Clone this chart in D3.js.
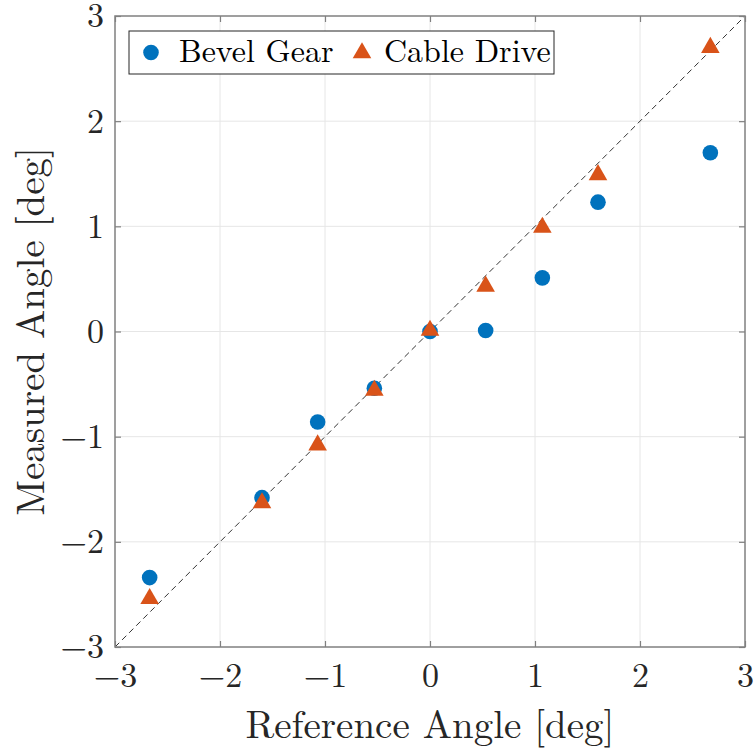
<!DOCTYPE html>
<html>
<head>
<meta charset="utf-8">
<script src="https://cdn.jsdelivr.net/npm/d3@7"></script>
<style>
  body { margin: 0; background: #fff; }
  text { font-family: "Latin Modern Roman", "CMU Serif", "Liberation Serif", "DejaVu Serif", serif; }
</style>
</head>
<body>
<script>
// reference angle (x) and measured angles for each drive
var refAngle = [-2.67, -1.6, -1.07, -0.53, 0, 0.53, 1.07, 1.6, 2.67];
var bevelGear = [-2.34, -1.58, -0.86, -0.54, 0, 0.01, 0.51, 1.23, 1.70];
var cableDrive = [-2.54, -1.63, -1.08, -0.56, 0.01, 0.43, 0.99, 1.49, 2.7];
var tickVals = [-3, -2, -1, 0, 1, 2, 3];

var w = 756, h = 749;
var margin = { left: 115, top: 16, right: 11, bottom: 102 };
var pw = w - margin.left - margin.right;
var ph = h - margin.top - margin.bottom;

var blue = "#0072BD", orange = "#D95319";

var svg = d3.select("body").append("svg")
  .attr("width", w)
  .attr("height", h);

var g = svg.append("g")
  .attr("transform", "translate(" + margin.left + "," + margin.top + ")");

var x = d3.scaleLinear().domain([-3, 3]).range([0, pw]);
var y = d3.scaleLinear().domain([-3, 3]).range([ph, 0]);

// grid
g.append("g").selectAll("line.gx")
  .data(tickVals.slice(1, -1)).enter().append("line")
  .attr("x1", d => x(d)).attr("x2", d => x(d))
  .attr("y1", 0).attr("y2", ph)
  .attr("stroke", "#e6e6e6").attr("stroke-width", 1);
g.append("g").selectAll("line.gy")
  .data(tickVals.slice(1, -1)).enter().append("line")
  .attr("y1", d => y(d)).attr("y2", d => y(d))
  .attr("x1", 0).attr("x2", pw)
  .attr("stroke", "#e6e6e6").attr("stroke-width", 1);

// identity line
g.append("line")
  .attr("x1", x(-3)).attr("y1", y(-3))
  .attr("x2", x(3)).attr("y2", y(3))
  .attr("stroke", "#333").attr("stroke-width", 1)
  .attr("stroke-dasharray", "6,4");

// axes
function styleAxis(sel) {
  sel.select(".domain").remove();
  sel.selectAll(".tick line").attr("stroke", "#808080").attr("stroke-width", 1.2);
  sel.selectAll(".tick text")
    .attr("fill", "#262626")
    .style("font-size", "34px");
}
var fmt = d => (d < 0 ? "\u2212" + Math.abs(d) : "" + d);

g.append("g").attr("transform", "translate(0," + ph + ")")
  .call(d3.axisBottom(x).tickValues(tickVals).tickFormat(fmt).tickSizeInner(-6).tickPadding(16))
  .call(styleAxis);
g.append("g")
  .call(d3.axisLeft(y).tickValues(tickVals).tickFormat(fmt).tickSizeInner(-6).tickPadding(11))
  .call(styleAxis);
g.append("g")
  .call(d3.axisTop(x).tickValues(tickVals).tickFormat("").tickSizeInner(-6))
  .call(styleAxis);
g.append("g").attr("transform", "translate(" + pw + ",0)")
  .call(d3.axisRight(y).tickValues(tickVals).tickFormat("").tickSizeInner(-6))
  .call(styleAxis);

g.append("rect")
  .attr("width", pw).attr("height", ph)
  .attr("fill", "none").attr("stroke", "#808080").attr("stroke-width", 1.5);

// data
g.selectAll("circle.bevel")
  .data(refAngle).enter().append("circle")
  .attr("cx", d => x(d))
  .attr("cy", (d, i) => y(bevelGear[i]))
  .attr("r", 7.8)
  .attr("fill", blue);

var tri = d3.symbol().type(d3.symbolTriangle).size(150);
g.selectAll("path.cable")
  .data(refAngle).enter().append("path")
  .attr("d", tri)
  .attr("transform", (d, i) => "translate(" + x(d) + "," + y(cableDrive[i]) + ")")
  .attr("fill", orange);

// legend
var lg = g.append("g").attr("transform", "translate(14,15)");
lg.append("rect")
  .attr("width", 425).attr("height", 43)
  .attr("fill", "#fff").attr("stroke", "#262626").attr("stroke-width", 1);
lg.append("circle").attr("cx", 22).attr("cy", 21.5).attr("r", 7.8).attr("fill", blue);
lg.append("text").attr("x", 50).attr("y", 31).text("Bevel Gear")
  .style("font-size", "32px").attr("fill", "#000");
lg.append("path").attr("d", tri)
  .attr("transform", "translate(233,22)").attr("fill", orange);
lg.append("text").attr("x", 255).attr("y", 31).text("Cable Drive")
  .style("font-size", "32px").attr("fill", "#000");

// axis labels
svg.append("text")
  .attr("x", margin.left + pw / 2).attr("y", h - 11)
  .attr("text-anchor", "middle")
  .style("font-size", "39px").attr("fill", "#262626")
  .text("Reference Angle [deg]");
svg.append("text")
  .attr("transform", "translate(44," + (margin.top + ph / 2) + ") rotate(-90)")
  .attr("text-anchor", "middle")
  .style("font-size", "39px").attr("fill", "#262626")
  .text("Measured Angle [deg]");
</script>
</body>
</html>
